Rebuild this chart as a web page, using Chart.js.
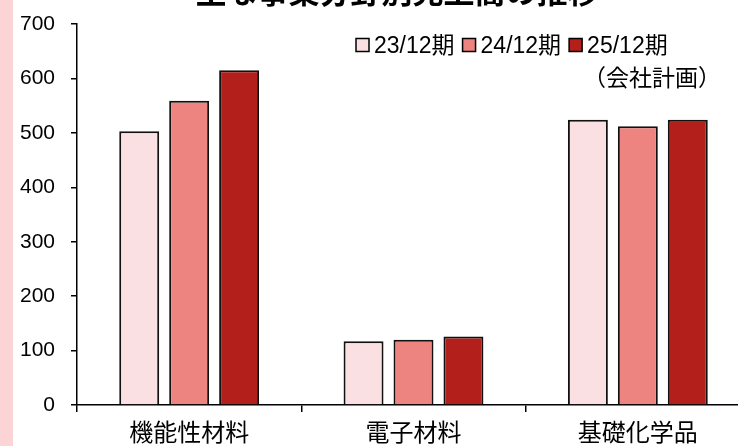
<!DOCTYPE html>
<html lang="ja">
<head>
<meta charset="utf-8">
<title>主な事業分野別売上高の推移</title>
<script src="https://cdn.jsdelivr.net/npm/chart.js@4.4.1/dist/chart.umd.min.js"></script>
<style>
  html, body { margin: 0; padding: 0; background: #ffffff; overflow: hidden; width: 738px; height: 446px; }
  #wrap { position: relative; width: 738px; height: 446px; overflow: hidden; }
  canvas { position: absolute; left: 0; top: 0; }
</style>
</head>
<body>
<div id="wrap"><canvas id="chart" width="760" height="446"></canvas></div>
<script>
// 売上高（億円）: 事業分野ごとの期別推移
const chartTitle = '主な事業分野別売上高の推移';
const categories = ['機能性材料', '電子材料', '基礎化学品'];
const seriesLabels = ['23/12期', '24/12期', '25/12期'];
const seriesNotes = ['', '', '（会社計画）'];
const sales2312 = [503, 117, 524];
const sales2412 = [559, 120, 512];
const sales2512 = [615, 126, 524];
const yTickMin = 0;
const yTickMax = 700;
const yTickStep = 100;

const seriesColors = ['#fbe0e3', '#ee847f', '#b31f1a'];
const LATIN = "'Liberation Sans', Arial, 'Noto Sans CJK JP', sans-serif";
const CJK = "'Noto Sans CJK JP', 'Noto Sans CJK SC', sans-serif";

// 左端の帯と上端で切れたタイトル
const framePlugin = {
  id: 'frame',
  beforeDraw(chart) {
    const ctx = chart.ctx;
    ctx.save();
    ctx.fillStyle = '#ffffff';
    ctx.fillRect(0, 0, chart.width, chart.height);
    ctx.fillStyle = '#fcd4d6';
    ctx.fillRect(0, 0, 13, chart.height);
    ctx.fillStyle = '#000000';
    ctx.font = 'bold 31px ' + CJK;
    ctx.textAlign = 'center';
    ctx.textBaseline = 'alphabetic';
    ctx.fillText(chartTitle, 397, 3);
    ctx.restore();
  }
};

// 凡例（プロット内右上、25/12期の下に注記）
const legendPlugin = {
  id: 'boxLegend',
  afterDraw(chart) {
    const ctx = chart.ctx;
    ctx.save();
    ctx.font = '23px ' + LATIN;
    ctx.textBaseline = 'alphabetic';
    ctx.textAlign = 'left';
    let x = 356;
    const boxTop = 38.5, box = 13, baseLine = 53;
    chart.data.datasets.forEach((ds, i) => {
      ctx.fillStyle = ds.backgroundColor;
      ctx.fillRect(x, boxTop, box, box);
      ctx.lineWidth = 1.5;
      ctx.strokeStyle = '#000000';
      ctx.strokeRect(x, boxTop, box, box);
      ctx.fillStyle = '#000000';
      const tx = x + box + 5;
      ctx.fillText(ds.label, tx, baseLine);
      const w = ctx.measureText(ds.label).width;
      if (seriesNotes[i]) {
        ctx.save();
        ctx.font = '23px ' + CJK;
        ctx.fillText(seriesNotes[i], tx - 4, 86);
        ctx.restore();
      }
      x = tx + w + 8;
    });
    ctx.restore();
  }
};

const datasets = [sales2312, sales2412, sales2512].map((values, i) => ({
  label: seriesLabels[i],
  data: values,
  backgroundColor: seriesColors[i],
  borderColor: '#111111',
  borderWidth: 2,
  borderSkipped: 'start',
  categoryPercentage: 0.668,
  barPercentage: 0.8
}));

new Chart(document.getElementById('chart'), {
  type: 'bar',
  data: { labels: categories, datasets },
  options: {
    responsive: false,
    animation: false,
    devicePixelRatio: 1,
    layout: { padding: { left: 0, right: 10, top: 24, bottom: 0 } },
    plugins: {
      legend: { display: false },
      title: { display: false },
      tooltip: { enabled: false }
    },
    scales: {
      x: {
        offset: true,
        grid: {
          offset: true,
          drawOnChartArea: false,
          drawTicks: true,
          tickLength: 7,
          color: '#000000',
          lineWidth: 1.5
        },
        border: { display: true, color: '#000000', width: 1.5 },
        ticks: {
          color: '#000000',
          padding: 5,
          maxRotation: 0,
          font: { family: CJK, size: 24 }
        },
        afterFit(scale) { scale.height = 41; }
      },
      y: {
        min: yTickMin,
        max: yTickMax,
        grid: {
          drawOnChartArea: false,
          drawTicks: true,
          tickLength: 6,
          color: '#000000',
          lineWidth: 1.5
        },
        border: { display: true, color: '#000000', width: 1.5 },
        ticks: {
          stepSize: yTickStep,
          color: '#000000',
          padding: 16,
          font: { family: LATIN, size: 21 }
        },
        afterFit(scale) {
          scale.width = 77;
          scale.paddingTop = 0;
          scale.paddingBottom = 0;
        }
      }
    }
  },
  plugins: [framePlugin, legendPlugin]
});
</script>
</body>
</html>
